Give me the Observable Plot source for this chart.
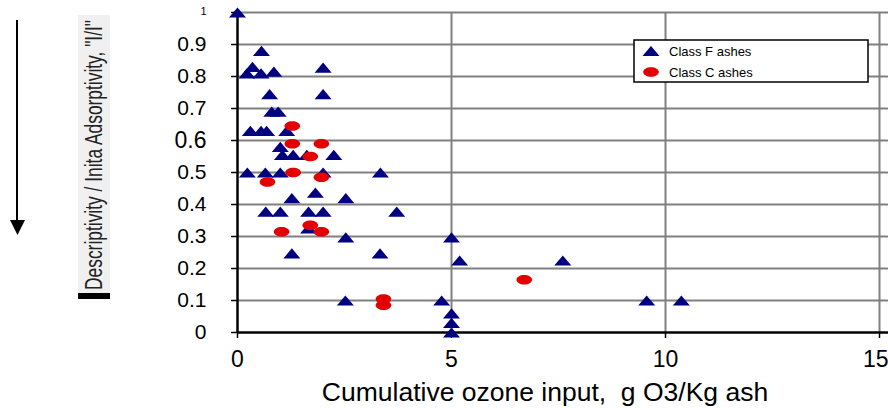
<!DOCTYPE html>
<html><head><meta charset="utf-8">
<script src="https://cdn.jsdelivr.net/npm/d3@7"></script>
<script src="https://cdn.jsdelivr.net/npm/@observablehq/plot@0.6"></script>
<style>
body{margin:0;background:#fff;}
#chart{position:relative;width:888px;height:408px;}
</style></head><body><div id="chart"></div>
<script>
// ---- data ----
const seriesNames = ["Class F ashes", "Class C ashes"];
const classFx = [0, 0.56, 0.22, 0.35, 0.55, 0.85, 2.0, 0.75, 2.0, 0.8, 0.95, 0.3, 0.55, 0.68, 1.15,
  1.0, 1.05, 1.3, 1.62, 2.25, 0.23, 0.65, 1.0, 2.0, 3.34, 1.82, 1.27, 2.53,
  0.66, 1.0, 1.66, 2.0, 3.72, 1.66, 2.53, 5.0, 1.27, 3.33, 5.19, 7.6, 2.52, 4.77, 9.56, 10.37, 5.0, 5.0, 5.0];
const classFy = [1.0, 0.88, 0.81, 0.83, 0.81, 0.815, 0.828, 0.745, 0.745, 0.69, 0.69, 0.63, 0.63, 0.63, 0.63,
  0.58, 0.555, 0.555, 0.555, 0.555, 0.5, 0.5, 0.5, 0.5, 0.5, 0.437, 0.42, 0.42,
  0.378, 0.378, 0.378, 0.378, 0.378, 0.325, 0.297, 0.297, 0.247, 0.247, 0.225, 0.225, 0.1, 0.1, 0.1, 0.1, 0.06, 0.03, 0.0];
const classCx = [1.28, 1.28, 1.96, 1.7, 1.3, 1.96, 0.7, 1.7, 1.03, 1.96, 3.41, 3.41, 6.7];
const classCy = [0.645, 0.59, 0.59, 0.55, 0.50, 0.485, 0.47, 0.335, 0.315, 0.315, 0.105, 0.085, 0.165];
const xTicks = [0, 5, 10, 15];
const yTicks = [0, 0.1, 0.2, 0.3, 0.4, 0.5, 0.6, 0.7, 0.8, 0.9, 1];
const xLabel = "Cumulative ozone input,  g O3/Kg ash";
const yLabel = "Descriptivity / Inita Adsorptivity, \"I/I\"";

// ---- build ----
const fData = classFx.map((x, i) => ({x, y: classFy[i], s: seriesNames[0]}));
const cData = classCx.map((x, i) => ({x, y: classCy[i], s: seriesNames[1]}));

const triangleSymbol = {draw(ctx, size) {
  const r = Math.sqrt(size / Math.PI), w = r, h = 0.6 * r;
  ctx.moveTo(0, -h); ctx.lineTo(w, h); ctx.lineTo(-w, h); ctx.closePath();
}};
const ellipseSymbol = {draw(ctx, size) {
  const r = Math.sqrt(size / Math.PI), rx = 0.92 * r, ry = 0.56 * r, k = 0.5523;
  ctx.moveTo(rx, 0);
  ctx.bezierCurveTo(rx, ry * k, rx * k, ry, 0, ry);
  ctx.bezierCurveTo(-rx * k, ry, -rx, ry * k, -rx, 0);
  ctx.bezierCurveTo(-rx, -ry * k, -rx * k, -ry, 0, -ry);
  ctx.bezierCurveTo(rx * k, -ry, rx, -ry * k, rx, 0);
  ctx.closePath();
}};
const BLUE = "#000080", RED = "#e40000";
const FONT = "'Liberation Sans', Arial, sans-serif";

const plot = Plot.plot({
  width: 888, height: 408,
  marginLeft: 237, marginRight: 0, marginTop: 12, marginBottom: 76,
  style: {fontFamily: FONT, background: "white", color: "black", overflow: "visible"},
  x: {domain: [0, 15.21]},
  y: {domain: [0, 1]},
  marks: [
    Plot.ruleY(yTicks.slice(1), {stroke: "#808080", strokeWidth: 2}),
    Plot.ruleX(xTicks.slice(1), {stroke: "#808080", strokeWidth: 2}),
    Plot.axisX({ticks: xTicks, tickSize: 6, tickPadding: 12, fontSize: 23, label: null, strokeWidth: 1.5}),
    Plot.axisY({ticks: yTicks, tickSize: 6, tickPadding: 25, fontSize: 21, label: null, strokeWidth: 1.5, tickFormat: d => String(d)}),
    Plot.ruleX([0], {stroke: "black", strokeWidth: 2.5}),
    Plot.ruleY([0], {stroke: "black", strokeWidth: 2.5}),
    Plot.dot(fData, {x: "x", y: "y", symbol: triangleSymbol, r: 8.5, fill: BLUE, stroke: "none"}),
    Plot.dot(cData, {x: "x", y: "y", symbol: ellipseSymbol, r: 8.5, fill: RED, stroke: "none"})
  ]
});
document.getElementById("chart").appendChild(plot);

const svg = d3.select(plot);
// tick label size quirks
svg.selectAll('g[aria-label="y-axis tick label"] text').each(function() {
  const t = this.textContent;
  if (t === "1") d3.select(this).attr("font-size", 11).attr("dy", "-0.1em");
  if (t === "0.6") d3.select(this).attr("font-size", 23);
});
svg.selectAll('g[aria-label="x-axis tick label"] text').each(function() {
  if (this.textContent === "15") d3.select(this).attr("text-anchor", "end").attr("dx", 9);
});

// x-axis title
svg.append("text").attr("x", 545).attr("y", 401).attr("text-anchor", "middle")
  .attr("font-size", 26.5).attr("font-family", FONT).attr("fill", "black").text(xLabel);

// y-axis title box
const yl = svg.append("g");
yl.append("rect").attr("x", 78).attr("y", 15).attr("width", 32).attr("height", 282).attr("fill", "#f0f0f0");
yl.append("rect").attr("x", 78).attr("y", 293).attr("width", 32).attr("height", 6).attr("fill", "black");
yl.append("text").attr("transform", "translate(102,155) rotate(-90) scale(1,1.5)").attr("text-anchor", "middle")
  .attr("font-size", 16).attr("font-family", FONT).attr("fill", "#222")
  .attr("textLength", 270).attr("lengthAdjust", "spacingAndGlyphs").text(yLabel);

// arrow
svg.append("line").attr("x1", 17).attr("x2", 17).attr("y1", 20).attr("y2", 222).attr("stroke", "black").attr("stroke-width", 2);
svg.append("path").attr("d", "M10,220L25,220L17.5,235Z").attr("fill", "black");

// legend
const lg = svg.append("g");
lg.append("rect").attr("x", 634).attr("y", 40).attr("width", 234).attr("height", 42).attr("fill", "white").attr("stroke", "black").attr("stroke-width", 1.5);
const syms = [triangleSymbol, ellipseSymbol], cols = [BLUE, RED];
seriesNames.forEach((name, i) => {
  const cy = 51 + i * 21;
  lg.append("path").attr("transform", `translate(651,${cy})`).attr("d", d3.symbol(syms[i], Math.PI * 8.5 * 8.5)()).attr("fill", cols[i]);
  lg.append("text").attr("x", 669).attr("y", cy + 5).attr("font-size", 13).attr("text-anchor", "start")
    .attr("font-family", FONT).attr("fill", "black").text(name);
});
</script></body></html>
